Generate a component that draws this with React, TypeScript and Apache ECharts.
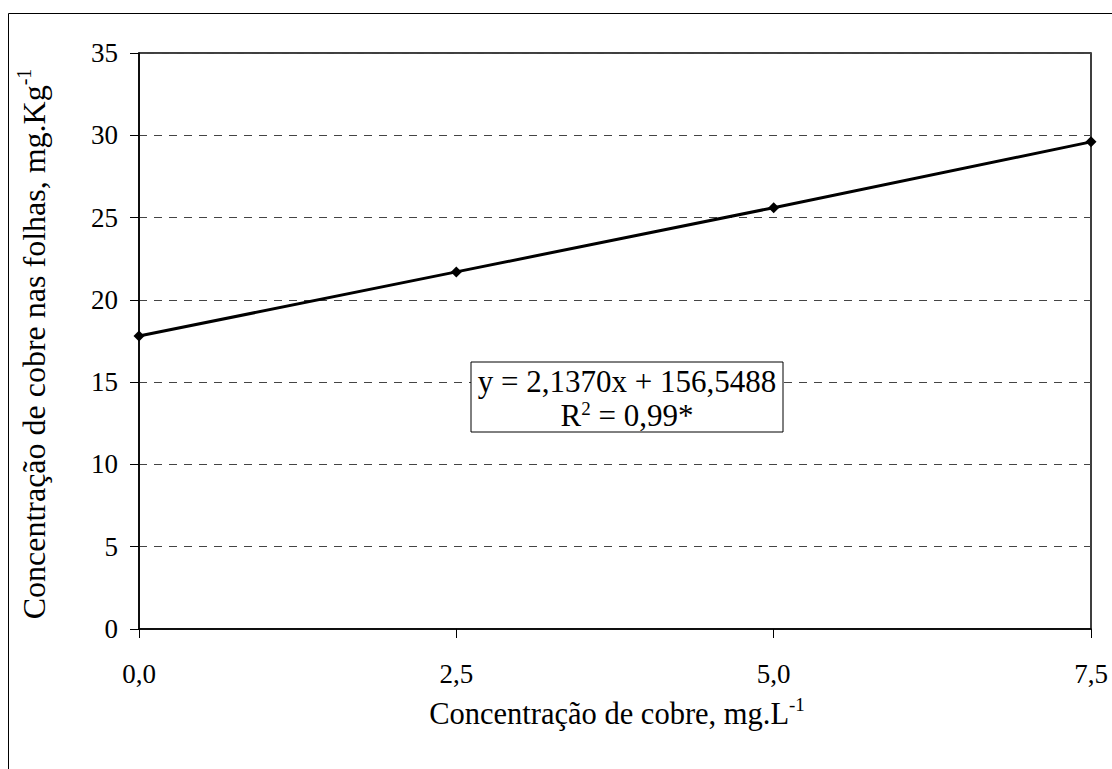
import React, { useEffect, useRef } from "react";
import * as echarts from "echarts";

const xValues = [0, 2.5, 5, 7.5];
const yValues = [17.8, 21.7, 25.6, 29.6];
const yTicks = { min: 0, max: 35, interval: 5 };
const xTicks = { min: 0, max: 7.5, interval: 2.5 };
const equationLine1 = "y = 2,1370x + 156,5488";
const equationLine2 = "= 0,99*";
const xTitle = "Concentração de cobre, mg.L";
const yTitle = "Concentração de cobre nas folhas, mg.Kg";

const FONT = "Liberation Serif";

export default function App() {
  const ref = useRef<HTMLDivElement>(null);
  useEffect(() => {
    if (!ref.current) return;
    const chart = echarts.init(ref.current, null, { renderer: "svg" });
    const data = xValues.map((x, i) => [x, yValues[i]]);
    chart.setOption({
      animation: false,
      backgroundColor: "#ffffff",
      textStyle: { fontFamily: FONT, color: "#000" },
      grid: {
        left: 139,
        top: 53,
        right: 21,
        bottom: 140,
        show: true,
        borderColor: "#000",
        borderWidth: 1.5,
        backgroundColor: "transparent",
      },
      xAxis: {
        type: "value",
        min: xTicks.min,
        max: xTicks.max,
        interval: xTicks.interval,
        axisLine: { show: true, onZero: false, lineStyle: { color: "#000", width: 1.5 } },
        axisTick: { show: true, inside: false, length: 9, lineStyle: { color: "#000", width: 1 } },
        axisLabel: {
          margin: 31,
          fontSize: 27,
          fontFamily: FONT,
          color: "#000",
          formatter: (v: number) => v.toFixed(1).replace(".", ","),
        },
        splitLine: { show: false },
      },
      yAxis: {
        type: "value",
        min: yTicks.min,
        max: yTicks.max,
        interval: yTicks.interval,
        axisLine: { show: true, lineStyle: { color: "#000", width: 1.5 } },
        axisTick: { show: true, inside: false, length: 9, lineStyle: { color: "#000", width: 1 } },
        axisLabel: { margin: 21, fontSize: 27, fontFamily: FONT, color: "#000" },
        splitLine: { show: true, lineStyle: { color: "#444", width: 1, type: [8, 7] } },
      },
      series: [
        {
          type: "line",
          data,
          symbol: "diamond",
          symbolSize: 11,
          lineStyle: { color: "#000", width: 3 },
          itemStyle: { color: "#000" },
          z: 5,
        },
      ],
      graphic: [
        {
          type: "rect",
          shape: { x: 8.5, y: 13.5, width: 1300, height: 1000 },
          style: { fill: "none", stroke: "#000", lineWidth: 1 },
          silent: true,
          z: 0,
        },
        {
          type: "rect",
          shape: { x: 471, y: 362, width: 312, height: 70 },
          style: { fill: "#fff", stroke: "#000", lineWidth: 1 },
          z: 10,
        },
        {
          type: "text",
          x: 627,
          y: 381,
          z: 11,
          style: {
            text: equationLine1,
            fontSize: 31,
            fontFamily: FONT,
            fill: "#000",
            align: "center",
            verticalAlign: "middle",
          },
        },
        {
          type: "text",
          x: 627,
          y: 415,
          z: 11,
          style: {
            text: `{a|R}{s|2}{a| ${equationLine2}}`,
            align: "center",
            verticalAlign: "middle",
            rich: {
              a: { fontSize: 31, fontFamily: FONT, color: "#000", lineHeight: 32, verticalAlign: "bottom" },
              s: { fontSize: 19, fontFamily: FONT, color: "#000", lineHeight: 19, verticalAlign: "top" },
            },
          },
        },
        {
          type: "text",
          x: 617,
          y: 712,
          z: 11,
          style: {
            text: `{a|${xTitle}}{s|-1}`,
            align: "center",
            verticalAlign: "middle",
            rich: {
              a: { fontSize: 30.5, fontFamily: FONT, color: "#000", lineHeight: 34, verticalAlign: "bottom" },
              s: { fontSize: 19, fontFamily: FONT, color: "#000", lineHeight: 18, verticalAlign: "top" },
            },
          },
        },
        {
          type: "text",
          x: 32,
          y: 344,
          rotation: Math.PI / 2,
          z: 11,
          style: {
            text: `{a|${yTitle}}{s|-1}`,
            align: "center",
            verticalAlign: "middle",
            rich: {
              a: { fontSize: 32, fontFamily: FONT, color: "#000", lineHeight: 36, verticalAlign: "bottom" },
              s: { fontSize: 20, fontFamily: FONT, color: "#000", lineHeight: 18, verticalAlign: "top" },
            },
          },
        },
      ],
    });
    return () => chart.dispose();
  }, []);
  return (
    <div
      ref={ref}
      style={{ position: "fixed", left: 0, top: 0, width: 1112, height: 769, background: "#fff" }}
    />
  );
}
